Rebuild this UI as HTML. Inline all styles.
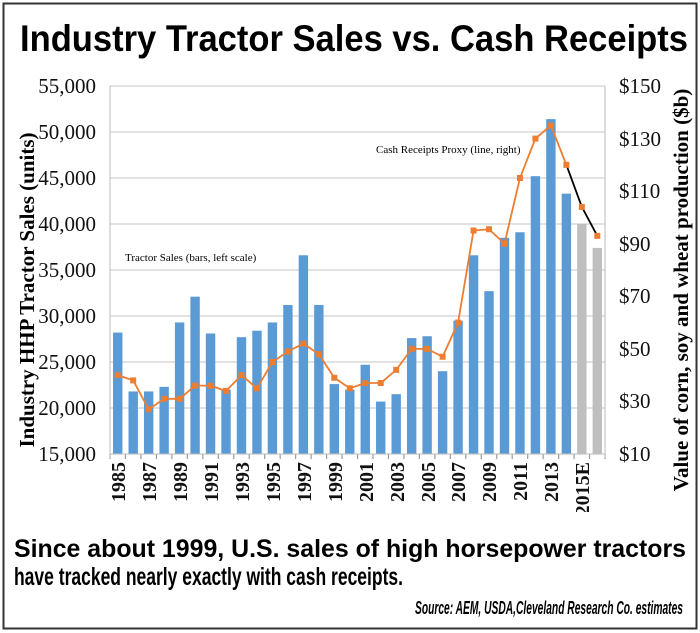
<!DOCTYPE html>
<html><head><meta charset="utf-8"><style>
html,body{margin:0;padding:0;background:#fff}
svg{display:block}
</style></head><body>
<svg id="s" width="700" height="633" viewBox="0 0 700 633" xmlns="http://www.w3.org/2000/svg">
<rect x="3.5" y="3.5" width="693" height="625" fill="#fff" stroke="#333" stroke-width="2"/>
<text x="354" y="51" text-anchor="middle" font-family="Liberation Sans Narrow, Liberation Sans, sans-serif" font-weight="bold" font-size="37" textLength="668" lengthAdjust="spacingAndGlyphs">Industry Tractor Sales vs. Cash Receipts</text>
<g id="grid" stroke="#d0d0d0" stroke-width="1.2"></g>
<g id="bars"></g>
<g id="line"></g>
<line x1="110" y1="86" x2="110" y2="458" stroke="#bbb"/>
<line x1="605" y1="86" x2="605" y2="458" stroke="#bbb"/>
<line x1="110" y1="454" x2="605" y2="454" stroke="#bbb"/>
<g font-family="Liberation Serif, serif" font-size="21" text-anchor="end" fill="#111">
<text x="96" y="93">55,000</text><text x="96" y="139">50,000</text><text x="96" y="185">45,000</text><text x="96" y="231">40,000</text><text x="96" y="277">35,000</text><text x="96" y="323">30,000</text><text x="96" y="369">25,000</text><text x="96" y="415">20,000</text><text x="96" y="461">15,000</text>
</g>
<g font-family="Liberation Serif, serif" font-size="21" text-anchor="start" fill="#111">
<text x="619" y="93">$150</text><text x="619" y="146">$130</text><text x="619" y="198">$110</text><text x="619" y="251">$90</text><text x="619" y="303">$70</text><text x="619" y="356">$50</text><text x="619" y="408">$30</text><text x="619" y="461">$10</text>
</g>
<text transform="translate(34,290) rotate(-90)" text-anchor="middle" font-family="Liberation Serif, serif" font-weight="bold" font-size="21">Industry HHP Tractor Sales (units)</text>
<text transform="translate(688,290) rotate(-90)" text-anchor="middle" font-family="Liberation Serif, serif" font-weight="bold" font-size="21">Value of corn, soy and wheat production ($b)</text>
<text x="125" y="261" font-family="Liberation Serif, serif" font-size="11">Tractor Sales (bars, left scale)</text>
<text x="376" y="153" font-family="Liberation Serif, serif" font-size="11">Cash Receipts Proxy (line, right)</text>
<g font-family="Liberation Serif, serif" font-weight="bold" font-size="20" text-anchor="end" fill="#111">
<text transform="translate(125,462) rotate(-90)">1985</text>
<text transform="translate(156,462) rotate(-90)">1987</text>
<text transform="translate(187,462) rotate(-90)">1989</text>
<text transform="translate(218,462) rotate(-90)">1991</text>
<text transform="translate(249,462) rotate(-90)">1993</text>
<text transform="translate(280,462) rotate(-90)">1995</text>
<text transform="translate(311,462) rotate(-90)">1997</text>
<text transform="translate(342,462) rotate(-90)">1999</text>
<text transform="translate(373,462) rotate(-90)">2001</text>
<text transform="translate(404,462) rotate(-90)">2003</text>
<text transform="translate(435,462) rotate(-90)">2005</text>
<text transform="translate(465,462) rotate(-90)">2007</text>
<text transform="translate(496,462) rotate(-90)">2009</text>
<text transform="translate(527,462) rotate(-90)">2011</text>
<text transform="translate(558,462) rotate(-90)">2013</text>
<text transform="translate(589,462) rotate(-90)">2015E</text>
</g>
<rect x="6" y="512" width="688" height="115" fill="#fff"/>
<g font-family="Liberation Sans Narrow, Liberation Sans, sans-serif" font-weight="bold" font-size="25">
<text x="14" y="557" textLength="672" lengthAdjust="spacingAndGlyphs">Since about 1999, U.S. sales of high horsepower tractors</text>
<text x="14" y="585" textLength="389" lengthAdjust="spacingAndGlyphs">have tracked nearly exactly with cash receipts.</text>
<text x="683" y="614" text-anchor="end" font-style="italic" font-size="18" textLength="268" lengthAdjust="spacingAndGlyphs">Source: AEM, USDA,Cleveland Research Co. estimates</text>
</g>
</svg>
<script>
var NS="http://www.w3.org/2000/svg";
function el(p,t,a){var e=document.createElementNS(NS,t);for(var k in a)e.setAttribute(k,a[k]);document.getElementById(p).appendChild(e);return e;}
for(var v=20000;v<=55000;v+=5000){var y=454-(v-15000)*0.0092;el("grid","line",{x1:110,x2:605,y1:y,y2:y});}
for(var i=0;i<=32;i++){var x=110+i*15.47;el("grid","line",{x1:x,x2:x,y1:454,y2:459,stroke:"#999"});}
var bars=[28200,21800,21800,22300,29300,32100,28100,22000,27700,28400,29300,31200,36600,31200,22600,22000,24700,20700,21500,27600,27800,24000,29500,36600,32700,38500,39100,45200,51400,43300,40000,37400];
var ln=[40,38,27,31,31,36,36,34,40,35,45,49,52,48,39,35,37,37,42,50,50,47,60,95,95.5,90,115,130,135,120,104,93];
function cx(i){return 110+15.47*(i+0.5);}
bars.forEach(function(v,i){var y=454-(v-15000)*0.0092;el("bars","rect",{x:cx(i)-4.7,y:y,width:9.4,height:454-y,fill:i>=30?"#bfbfbf":"#5b9bd5"});});
function ly(v){return 454-(v-10)*368/140;}
var pts=ln.map(function(v,i){return cx(i)+","+ly(v);});
el("line","polyline",{points:pts.slice(0,30).join(" "),fill:"none",stroke:"#ed7d31","stroke-width":1.8});
el("line","polyline",{points:pts.slice(29).join(" "),fill:"none",stroke:"#000","stroke-width":1.8});
ln.forEach(function(v,i){el("line","rect",{x:cx(i)-3,y:ly(v)-3,width:6,height:6,fill:"#ed7d31"});});
</script>
</body></html>
